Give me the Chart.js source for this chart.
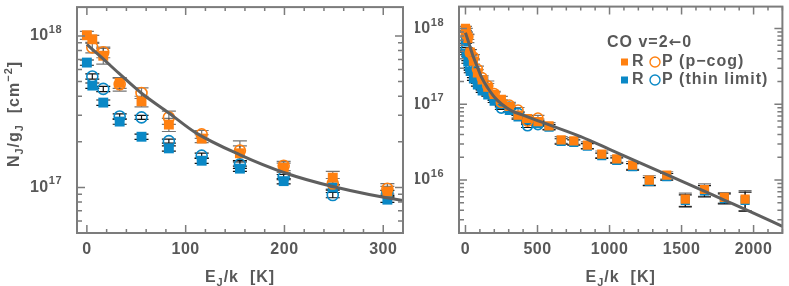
<!DOCTYPE html>
<html>
<head>
<meta charset="utf-8">
<script src="https://cdn.jsdelivr.net/npm/chart.js@4.4.1/dist/chart.umd.min.js"></script>
<style>
  html, body { margin: 0; padding: 0; background: #fff; }
  #wrap { position: relative; width: 789px; height: 286px; overflow: hidden; }
  #c1 { position: absolute; left: 0; top: 0; }
  #c2 { position: absolute; left: 415px; top: 0; }
</style>
</head>
<body>
<div id="wrap">
  <canvas id="c1" width="415" height="286"></canvas>
  <canvas id="c2" width="374" height="286"></canvas>
</div>
<script>
// level energies E_J/k [K] (R branch starts at J=0, P branch at J=1)
const energyR = [0, 5.5, 16.6, 33.2, 55.3, 83.0, 116.2, 154.9, 199.2, 248.9, 304.2,
  365, 431, 503, 580, 664, 752, 846, 946, 1050, 1160, 1276, 1397, 1526, 1659, 1797, 1941];
const energyP = [5.5, 16.6, 33.2, 55.3, 83.0, 116.2, 154.9, 199.2, 248.9, 304.2, 365, 431, 503];

// N_J/g_J [cm^-2], p-cog
const cogR = [1.01e18, 9.5e17, 7.4e17, 4.9e17, 3.7e17, 2.6e17, 2.1e17, 1.68e17, 1.35e17, 1.16e17, 9.4e16,
  7.2e16, 6.5e16, 5.9e16, 5.2e16, 3.4e16, 3.3e16, 2.9e16, 2.2e16, 1.9e16, 1.57e16, 1.0e16, 1.16e16,
  5.6e15, 7.5e15, 5.9e15, 5.6e15];
const cogRerr = [0.06, 0.06, 0.12, 0.08, 0.08, 0.1, 0.06, 0.12, 0.07, 0.1, 0.08,
  0.08, 0.08, 0.08, 0.1, 0.1, 0.1, 0.1, 0.1, 0.1, 0.12, 0.14, 0.11, 0.2, 0.19, 0.16, 0.3];
const cogP = [8.4e17, 7.8e17, 4.8e17, 4.2e17, 2.9e17, 2.24e17, 1.75e17, 1.39e17, 1.06e17, 9.8e16,
  8.4e16, 6.0e16, 6.6e16];
const cogPerr = [0.08, 0.08, 0.1, 0.08, 0.1, 0.06, 0.16, 0.07, 0.08, 0.08, 0.08, 0.08, 0.08];

// N_J/g_J [cm^-2], thin limit
const thinR = [6.67e17, 4.7e17, 3.63e17, 2.72e17, 2.16e17, 1.81e17, 1.5e17, 1.33e17, 1.1e17, 1.0e17, 8.3e16,
  6.8e16, 6.2e16, 5.6e16, 5.0e16, 3.25e16, 3.15e16, 2.8e16, 2.1e16, 1.82e16, 1.5e16, 9.6e15, 1.11e16,
  5.4e15, 7.2e15, 5.7e15, 5.4e15];
const thinRerr = [0.04, 0.04, 0.04, 0.04, 0.04, 0.04, 0.04, 0.04, 0.04, 0.04, 0.04,
  0.06, 0.06, 0.06, 0.08, 0.08, 0.08, 0.08, 0.08, 0.08, 0.1, 0.12, 0.1, 0.18, 0.17, 0.15, 0.28];
const thinP = [5.4e17, 4.47e17, 2.94e17, 2.9e17, 2.02e17, 1.62e17, 1.42e17, 1.17e17, 8.9e16, 9.2e16,
  7.6e16, 5.2e16, 5.4e16];
const thinPerr = [0.04, 0.04, 0.04, 0.03, 0.03, 0.04, 0.06, 0.04, 0.04, 0.04, 0.05, 0.05, 0.05];

// fitted curve
const fitE = [0, 16, 32, 55, 83, 110, 155, 200, 250, 320, 400, 500, 600, 800, 1000, 1200, 1500, 1800, 2000, 2200];
const fitN = [8.8e17, 7.1e17, 5.7e17, 4.2e17, 3.1e17, 2.3e17, 1.64e17, 1.25e17, 1.01e17, 8.2e16, 7.2e16,
  6.1e16, 5.2e16, 3.75e16, 2.55e16, 1.72e16, 9.7e15, 5.4e15, 3.65e15, 2.45e15];

// ticks
const xTicksLeft = [0, 100, 200, 300];
const xTicksRight = [0, 500, 1000, 1500, 2000];
const yDecadesLeft = [17, 18];
const yDecadesRight = [16, 17, 18];

const ORANGE = '#ff8010';
const BLUE = '#0a88c6';
const INK = '#585858';
const FRAME = '#7c7c7c';
const FONT = '"Liberation Sans", Arial, sans-serif';

function pts(xs, ys) {
  return xs.map((x, i) => ({ x: x, y: ys[i] }));
}

function datasets(sq, circ, cap) {
  return [
    { type: 'line', data: pts(fitE, fitN), borderColor: '#5f5f5f', borderWidth: 3,
      pointRadius: 0, cubicInterpolationMode: 'monotone', fill: false },
    { data: pts(energyR, cogR), errors: cogRerr, errorColor: 'rgba(70,70,70,0.75)', cap: cap,
      pointStyle: 'rect', pointRadius: sq, backgroundColor: ORANGE, borderWidth: 0 },
    { data: pts(energyP, cogP), errors: cogPerr, errorColor: 'rgba(70,70,70,0.75)', cap: cap,
      pointStyle: 'circle', pointRadius: circ, backgroundColor: 'rgba(0,0,0,0)', borderColor: ORANGE, borderWidth: 1.6 },
    { data: pts(energyR, thinR), errors: thinRerr, errorColor: '#111', cap: cap,
      pointStyle: 'rect', pointRadius: sq, backgroundColor: BLUE, borderWidth: 0 },
    { data: pts(energyP, thinP), errors: thinPerr, errorColor: '#111', cap: cap,
      pointStyle: 'circle', pointRadius: circ, backgroundColor: 'rgba(0,0,0,0)', borderColor: BLUE, borderWidth: 1.6 }
  ];
}

function drawErrors(chart) {
  const { ctx, chartArea: a, scales: { x, y } } = chart;
  ctx.save();
  ctx.beginPath();
  ctx.rect(a.left, a.top, a.right - a.left, a.bottom - a.top);
  ctx.clip();
  chart.data.datasets.forEach(ds => {
    if (!ds.errors) return;
    ctx.strokeStyle = ds.errorColor;
    ctx.lineWidth = 1.2;
    ctx.beginPath();
    ds.data.forEach((p, i) => {
      const e = ds.errors[i];
      const px = x.getPixelForValue(p.x);
      const hi = y.getPixelForValue(p.y * (1 + e));
      const lo = y.getPixelForValue(p.y * (1 - e));
      ctx.moveTo(px, hi); ctx.lineTo(px, lo);
      ctx.moveTo(px - ds.cap, hi); ctx.lineTo(px + ds.cap, hi);
      ctx.moveTo(px - ds.cap, lo); ctx.lineTo(px + ds.cap, lo);
    });
    ctx.stroke();
  });
  ctx.restore();
}

function drawFrame(chart, cfg) {
  const { ctx, chartArea: a, scales: { x, y } } = chart;
  ctx.save();
  ctx.strokeStyle = FRAME;
  ctx.lineWidth = 1.5;
  ctx.beginPath();
  const first = Math.ceil(x.min / cfg.xMinor) * cfg.xMinor;
  for (let v = first; v <= x.max; v += cfg.xMinor) {
    const px = x.getPixelForValue(v);
    const len = Math.abs(v % cfg.xMajor) < 1e-6 ? 8 : 4;
    ctx.moveTo(px, a.bottom); ctx.lineTo(px, a.bottom - len);
    ctx.moveTo(px, a.top); ctx.lineTo(px, a.top + len);
  }
  const d0 = Math.floor(Math.log10(y.min)), d1 = Math.ceil(Math.log10(y.max));
  for (let d = d0; d <= d1; d++) {
    for (let m = 1; m < 10; m++) {
      const v = m * Math.pow(10, d);
      if (v < y.min || v > y.max) continue;
      const py = y.getPixelForValue(v);
      const len = m === 1 ? 8 : 5;
      ctx.moveTo(a.left, py); ctx.lineTo(a.left + len, py);
      ctx.moveTo(a.right, py); ctx.lineTo(a.right - len, py);
    }
  }
  ctx.stroke();
  ctx.lineWidth = 2;
  ctx.strokeRect(a.left, a.top, a.right - a.left, a.bottom - a.top);
  ctx.restore();
}

// draws a sequence of [text, size, dy, family?] runs starting at x, returns width
function runs(ctx, parts, x, y, measureOnly) {
  let w = 0;
  parts.forEach(([t, size, dy, fam]) => {
    ctx.font = 'bold ' + size + 'px ' + (fam || FONT);
    if (!measureOnly) ctx.fillText(t, x + w, y + dy);
    w += ctx.measureText(t).width;
  });
  return w;
}

function drawLabels(chart, cfg) {
  const { ctx, chartArea: a, scales: { x, y } } = chart;
  ctx.save();
  ctx.fillStyle = INK;
  ctx.textBaseline = 'middle';
  ctx.textAlign = 'center';
  ctx.letterSpacing = '0.5px';
  ctx.font = 'bold 16px ' + FONT;
  cfg.xTicks.forEach(v => ctx.fillText(String(v), x.getPixelForValue(v), 250));

  ctx.textAlign = 'left';
  cfg.yDecades.forEach(d => {
    const py = y.getPixelForValue(Math.pow(10, d));
    const parts = [['10', 16, 0], [String(d), 11, -6]];
    const w = runs(ctx, parts, 0, 0, true);
    runs(ctx, parts, a.left - 15 - w, py, false);
  });

  ctx.letterSpacing = '1px';
  // x title
  const xt = [['E', 16, 0], ['J', 11, 5], ['/k', 16, 0], ['  [K]', 16, 0]];
  const wx = runs(ctx, xt, 0, 0, true);
  runs(ctx, xt, (a.left + a.right) / 2 - wx / 2, 278, false);

  // y title
  if (cfg.yTitle) {
    const yt = [['N', 16, 0], ['J', 11, 5], ['/g', 16, 0], ['J', 11, 5], ['  [cm', 16, 0], ['\u22122', 11, -6], [']', 16, 0]];
    const wy = runs(ctx, yt, 0, 0, true);
    ctx.translate(15, 114);
    ctx.rotate(-Math.PI / 2);
    runs(ctx, yt, -wy / 2, 0, false);
  }
  ctx.restore();
}

function drawLegend(chart, lg) {
  const ctx = chart.ctx;
  ctx.save();
  ctx.fillStyle = INK;
  ctx.textBaseline = 'middle';
  ctx.textAlign = 'left';
  ctx.letterSpacing = '1px';
  runs(ctx, [['CO v=2', 16, 0], ['\u2190', 15, 0, '"DejaVu Sans", sans-serif'], ['0', 16, 0]], lg.x, lg.y, false);
  [[ORANGE, 'P (p\u2212cog)'], [BLUE, 'P (thin limit)']].forEach(([c, label], i) => {
    const yy = lg.y + 19 + i * 18;
    ctx.fillStyle = c;
    ctx.fillRect(lg.x + 14, yy - 3.5, 7, 7);
    ctx.strokeStyle = c;
    ctx.lineWidth = 1.4;
    ctx.beginPath();
    ctx.arc(lg.x + 48, yy, 5, 0, Math.PI * 2);
    ctx.stroke();
    ctx.fillStyle = INK;
    ctx.font = 'bold 16px ' + FONT;
    ctx.fillText('R', lg.x + 25, yy);
    ctx.fillText(label, lg.x + 55, yy);
  });
  ctx.restore();
}

function makeChart(id, cfg) {
  return new Chart(document.getElementById(id), {
    type: 'scatter',
    data: { datasets: datasets(cfg.sq, cfg.circ, cfg.cap) },
    options: {
      responsive: false,
      animation: false,
      events: [],
      layout: { padding: cfg.padding },
      plugins: { legend: { display: false }, tooltip: { enabled: false } },
      scales: {
        x: { type: 'linear', min: cfg.xMin, max: cfg.xMax, display: false },
        y: { type: 'logarithmic', min: cfg.yMin, max: cfg.yMax, display: false }
      }
    },
    plugins: [{
      id: 'panel',
      beforeDatasetsDraw(chart) { drawErrors(chart); },
      afterDraw(chart) {
        drawFrame(chart, cfg);
        drawLabels(chart, cfg);
        if (cfg.legend) drawLegend(chart, cfg.legend);
      }
    }]
  });
}

makeChart('c1', {
  padding: { left: 77, right: 12, top: 2, bottom: 53 },
  xMin: -10, xMax: 320, yMin: 5e16, yMax: 1.55e18,
  xMinor: 20, xMajor: 100, xTicks: xTicksLeft, yDecades: yDecadesLeft,
  yTitle: true, sq: 7, circ: 5.5, cap: 7
});

makeChart('c2', {
  padding: { left: 44, right: 1, top: 2, bottom: 53 },
  xMin: -45, xMax: 2200, yMin: 2e15, yMax: 1.95e18,
  xMinor: 100, xMajor: 500, xTicks: xTicksRight, yDecades: yDecadesRight,
  yTitle: false, sq: 6.5, circ: 5, cap: 6.5,
  legend: { x: 192, y: 43 }
});
</script>
</body>
</html>
